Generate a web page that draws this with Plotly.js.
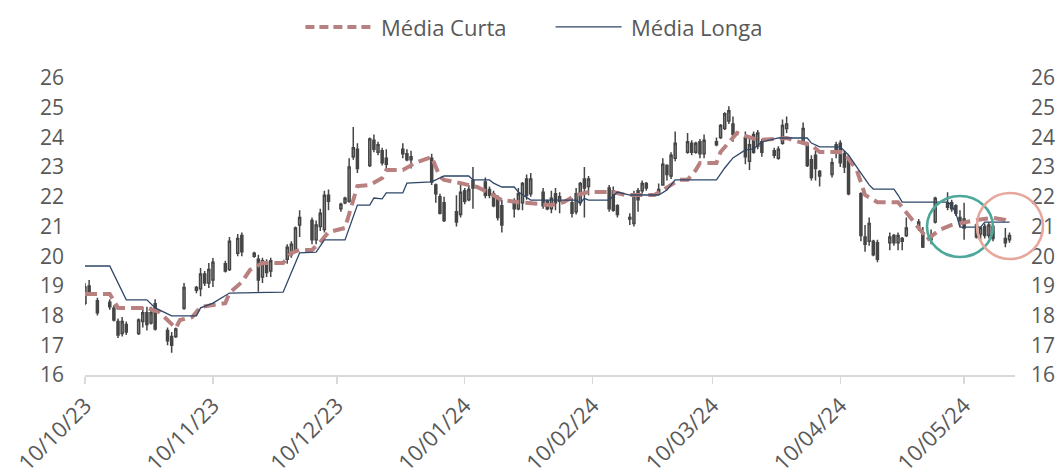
<!DOCTYPE html>
<html>
<head>
<meta charset="utf-8">
<script src="https://cdn.plot.ly/plotly-3.0.1.min.js"></script>
<style>
  html, body { margin: 0; padding: 0; background: #ffffff; }
  #chart { width: 1063px; height: 476px; }
</style>
</head>
<body>
<div id="chart"></div>
<script>
// ---- Data ----
const dates = [
  "2023-10-10","2023-10-11","2023-10-13","2023-10-16","2023-10-17","2023-10-18","2023-10-19","2023-10-20",
  "2023-10-23","2023-10-24","2023-10-25","2023-10-26","2023-10-27","2023-10-30","2023-10-31","2023-11-01",
  "2023-11-03","2023-11-06","2023-11-07","2023-11-08","2023-11-09","2023-11-10","2023-11-13","2023-11-14",
  "2023-11-16","2023-11-17","2023-11-20","2023-11-21","2023-11-22","2023-11-23","2023-11-24","2023-11-28",
  "2023-11-29","2023-11-30","2023-12-01","2023-12-04","2023-12-05","2023-12-06","2023-12-07","2023-12-08",
  "2023-12-11","2023-12-12","2023-12-13","2023-12-14","2023-12-15","2023-12-18","2023-12-19","2023-12-20",
  "2023-12-21","2023-12-22","2023-12-26","2023-12-27","2023-12-28","2024-01-02","2024-01-03","2024-01-04",
  "2024-01-05","2024-01-08","2024-01-09","2024-01-10","2024-01-11","2024-01-12","2024-01-15","2024-01-16",
  "2024-01-17","2024-01-18","2024-01-19","2024-01-22","2024-01-23","2024-01-24","2024-01-25","2024-01-26",
  "2024-01-29","2024-01-30","2024-01-31","2024-02-01","2024-02-02","2024-02-05","2024-02-06","2024-02-07",
  "2024-02-08","2024-02-09","2024-02-14","2024-02-15","2024-02-16","2024-02-19","2024-02-20","2024-02-21",
  "2024-02-22","2024-02-23","2024-02-26","2024-02-27","2024-02-28","2024-02-29","2024-03-01","2024-03-04",
  "2024-03-05","2024-03-06","2024-03-07","2024-03-08","2024-03-11","2024-03-12","2024-03-13","2024-03-14",
  "2024-03-15","2024-03-18","2024-03-19","2024-03-20","2024-03-21","2024-03-22","2024-03-25","2024-03-26",
  "2024-03-27","2024-03-28","2024-04-01","2024-04-02","2024-04-03","2024-04-04","2024-04-05","2024-04-08",
  "2024-04-09","2024-04-10","2024-04-11","2024-04-12","2024-04-15","2024-04-16","2024-04-17","2024-04-18",
  "2024-04-19","2024-04-22","2024-04-23","2024-04-24","2024-04-25","2024-04-26","2024-04-29","2024-04-30",
  "2024-05-02","2024-05-03","2024-05-06","2024-05-07","2024-05-08","2024-05-09","2024-05-10","2024-05-13",
  "2024-05-14","2024-05-15","2024-05-16","2024-05-17","2024-05-20","2024-05-21"
];
const openP = [
  18.42,19.00,18.50,18.45,18.25,17.80,17.40,17.70,
  17.40,17.80,18.10,17.75,18.40,17.50,17.30,17.30,
  18.25,18.85,18.90,19.40,19.10,19.20,19.75,19.55,
  20.10,20.70,20.00,19.90,19.30,19.80,19.50,19.90,
  20.05,20.20,21.05,21.20,20.55,21.00,20.90,22.05,
  21.60,21.80,21.85,23.35,23.60,23.05,23.90,23.50,
  23.55,23.30,23.60,23.45,23.35,23.30,22.40,22.00,
  21.80,21.50,21.40,22.20,21.90,22.55,22.50,22.25,
  22.10,21.95,21.70,21.85,21.60,21.80,22.60,22.10,
  22.15,21.85,21.60,22.10,21.85,21.80,21.50,21.80,
  22.60,22.35,22.30,22.20,21.70,21.30,21.10,22.20,
  22.20,22.45,22.15,22.40,23.05,22.70,23.30,23.50,
  23.80,23.50,23.85,23.45,23.85,24.00,24.30,24.55,
  24.45,24.00,23.20,24.10,23.70,23.85,23.55,23.30,
  23.80,24.30,23.80,23.75,23.25,23.40,22.85,22.75,
  23.75,23.80,23.45,23.30,22.10,20.65,20.50,20.50,
  20.45,20.45,20.70,20.45,20.60,20.70,21.00,20.78,
  20.60,21.15,21.80,21.80,21.70,21.30,21.25,21.05,
  20.75,21.00,20.70,21.00,20.60,20.55
];
const highP = [
  19.10,19.20,18.60,18.55,18.35,17.90,17.95,17.80,
  17.90,18.30,18.30,18.30,18.55,17.60,17.45,17.60,
  19.10,19.00,19.60,19.50,19.77,19.94,19.85,20.65,
  20.75,20.80,20.15,20.05,19.95,19.90,19.95,20.40,
  20.50,21.00,21.55,21.30,21.20,21.60,22.20,22.25,
  21.80,22.00,23.30,24.35,23.80,24.00,24.10,23.85,
  23.65,23.60,23.80,23.60,23.55,23.45,22.45,22.10,
  22.00,22.05,22.40,22.30,22.40,23.00,22.65,22.35,
  22.20,22.05,21.90,21.95,22.30,22.50,22.75,22.80,
  22.30,21.90,22.20,22.30,22.15,21.95,22.30,22.50,
  23.00,22.70,22.40,22.35,21.75,21.45,22.20,22.30,
  22.55,22.50,22.45,23.30,23.10,23.50,24.20,24.15,
  23.90,23.85,23.95,24.10,24.00,24.45,24.85,25.05,
  24.70,24.20,23.95,24.20,24.25,23.95,23.65,23.70,
  24.60,24.70,24.50,23.85,23.40,23.55,22.90,23.30,
  23.85,23.90,23.55,23.40,22.15,21.05,21.30,20.55,
  20.55,20.80,20.75,20.80,20.65,21.30,21.25,20.98,
  20.90,22.00,22.15,21.90,21.75,21.55,21.80,21.10,
  21.00,21.10,21.15,21.05,20.95,20.80
];
const lowP = [
  18.35,18.75,18.00,18.20,17.80,17.25,17.30,17.35,
  17.35,17.60,17.50,17.70,17.50,17.00,16.75,17.25,
  18.20,18.75,18.65,19.00,18.93,18.96,19.45,19.50,
  20.00,20.00,19.95,18.80,19.10,19.30,19.30,19.75,
  19.95,20.15,20.65,20.40,20.40,20.85,20.80,21.55,
  21.50,21.75,21.80,23.25,22.80,23.00,23.50,23.40,
  23.05,22.95,23.30,23.20,22.95,22.40,21.80,21.40,
  21.15,21.00,21.30,21.75,21.85,21.60,21.95,21.95,
  21.65,21.20,20.80,21.30,21.55,21.55,21.90,22.00,
  21.60,21.55,21.45,21.55,21.45,21.30,21.40,21.70,
  21.30,22.05,21.50,21.50,21.30,21.05,21.00,21.50,
  22.10,22.20,22.10,22.40,22.55,22.60,23.20,23.45,
  23.40,23.45,23.30,23.30,23.70,23.95,24.25,24.45,
  23.85,23.10,22.90,23.45,23.60,23.35,23.30,23.25,
  23.75,24.15,23.75,23.00,22.55,22.55,22.35,22.65,
  23.30,23.00,22.80,22.05,20.50,20.15,20.35,20.00,
  19.80,20.20,20.35,20.20,20.20,20.65,20.85,20.28,
  20.40,21.10,21.55,21.50,21.35,21.00,20.55,20.60,
  20.55,20.60,20.60,20.50,20.30,20.45
];
const closeP = [
  18.96,18.80,18.10,18.30,17.85,17.35,17.80,17.45,
  17.85,18.10,17.70,18.10,17.55,17.15,17.00,17.55,
  18.95,18.95,19.40,19.10,19.55,19.80,19.50,20.50,
  20.60,20.15,20.10,19.20,19.85,19.45,19.85,20.30,
  20.40,20.95,21.30,20.55,21.05,21.45,22.05,21.85,
  21.75,21.95,23.00,23.65,22.95,23.95,23.60,23.75,
  23.15,23.10,23.45,23.25,23.25,22.50,22.10,21.45,
  21.20,21.15,22.15,21.85,22.25,22.30,22.05,22.05,
  21.70,21.30,21.05,21.60,22.10,22.45,22.05,22.60,
  21.70,21.60,21.95,21.80,22.00,21.45,22.10,22.45,
  22.30,22.60,21.60,21.55,21.40,21.25,22.10,21.90,
  22.45,22.30,22.25,23.10,22.75,23.40,23.80,23.85,
  23.50,23.80,23.45,23.90,23.75,24.40,24.80,24.90,
  24.10,23.35,23.75,23.50,24.15,23.50,23.40,23.60,
  24.40,24.45,24.30,23.05,22.65,22.95,22.70,23.15,
  23.50,23.15,23.00,22.10,20.70,20.40,21.10,20.05,
  19.90,20.65,20.45,20.70,20.50,20.95,21.15,20.31,
  20.55,21.95,21.65,21.60,21.45,21.15,20.95,20.65,
  20.95,20.70,21.05,20.60,20.45,20.70
];

const curtaDates = [
  "2023-10-10","2023-10-16","2023-10-18","2023-10-25","2023-10-28","2023-10-30","2023-11-01","2023-11-02",
  "2023-11-05","2023-11-07","2023-11-13","2023-11-14","2023-11-17","2023-11-19","2023-11-22","2023-11-27",
  "2023-11-29","2023-12-01","2023-12-04","2023-12-06","2023-12-08","2023-12-12","2023-12-14","2023-12-15",
  "2023-12-18","2023-12-21","2023-12-22","2023-12-26","2023-12-29","2024-01-02","2024-01-04","2024-01-05",
  "2024-01-09","2024-01-13","2024-01-16","2024-01-19","2024-01-23","2024-01-31","2024-02-03","2024-02-06",
  "2024-02-09","2024-02-15","2024-02-18","2024-02-25","2024-02-27","2024-03-02","2024-03-04","2024-03-06",
  "2024-03-07","2024-03-11","2024-03-12","2024-03-15","2024-03-16","2024-03-21","2024-03-28","2024-03-31",
  "2024-04-03","2024-04-05","2024-04-10","2024-04-11","2024-04-14","2024-04-16","2024-04-19","2024-04-24",
  "2024-04-26","2024-04-28","2024-04-30","2024-05-01","2024-05-04","2024-05-07","2024-05-10","2024-05-13",
  "2024-05-17","2024-05-20","2024-05-21"
];
const curtaValues = [
  18.73,18.73,18.26,18.26,18.12,17.85,17.58,17.85,
  17.95,18.29,18.42,18.76,19.13,19.54,19.77,19.77,
  20.11,20.21,20.21,20.48,20.81,20.95,21.89,22.36,
  22.40,22.63,22.90,22.90,23.14,23.34,22.67,22.57,
  22.46,22.33,22.13,21.89,21.82,21.72,21.82,22.06,
  22.16,22.16,22.06,22.06,22.23,22.57,22.57,22.90,
  23.14,23.14,23.51,24.01,24.15,23.91,23.98,23.85,
  23.74,23.51,23.51,23.47,22.90,22.06,21.82,21.82,
  21.49,21.15,20.78,20.55,20.88,21.05,21.15,21.22,
  21.29,21.22,21.15
];

const longaDates = [
  "2023-10-10","2023-10-16","2023-10-20","2023-10-25","2023-10-27","2023-10-31","2023-11-06","2023-11-07",
  "2023-11-10","2023-11-14","2023-11-27","2023-12-01","2023-12-05","2023-12-07","2023-12-12","2023-12-15",
  "2023-12-18","2023-12-19","2023-12-21","2023-12-22","2023-12-26","2023-12-27","2024-01-02","2024-01-04",
  "2024-01-05","2024-01-11","2024-01-12","2024-01-16","2024-01-17","2024-01-19","2024-01-22","2024-01-23",
  "2024-01-26","2024-02-06","2024-02-07","2024-02-08","2024-02-09","2024-02-14","2024-02-16","2024-02-19",
  "2024-02-26","2024-02-28","2024-03-01","2024-03-11","2024-03-13","2024-03-15","2024-03-18","2024-03-20",
  "2024-03-22","2024-03-26","2024-04-02","2024-04-03","2024-04-05","2024-04-10","2024-04-12","2024-04-14",
  "2024-04-16","2024-04-17","2024-04-18","2024-04-23","2024-04-24","2024-04-25","2024-05-06","2024-05-07",
  "2024-05-08","2024-05-09","2024-05-14","2024-05-15","2024-05-21"
];
const longaValues = [
  19.67,19.67,18.53,18.53,18.26,17.99,17.99,18.26,
  18.42,18.76,18.79,20.11,20.14,20.55,20.55,21.72,
  21.72,21.96,21.93,22.13,22.13,22.46,22.50,22.63,
  22.70,22.70,22.57,22.57,22.46,22.33,22.33,22.16,
  21.89,21.89,21.79,21.95,21.89,21.89,22.16,22.06,
  22.06,22.23,22.57,22.57,22.97,23.31,23.58,23.61,
  23.85,23.98,23.98,23.81,23.68,23.68,23.41,23.00,
  22.57,22.40,22.26,22.26,22.06,21.82,21.82,21.72,
  21.45,20.98,20.98,21.15,21.15
];

const tickDates = ["2023-10-10","2023-11-10","2023-12-10","2024-01-10","2024-02-10","2024-03-10","2024-04-10","2024-05-10"];
const tickLabels = ["10/10/23","10/11/23","10/12/23","10/01/24","10/02/24","10/03/24","10/04/24","10/05/24"];
const seriesNames = ["Média Curta","Média Longa"];
const yTicks = [16,17,18,19,20,21,22,23,24,25,26];

// ---- Styles ----
const FONT = "Open Sans, Lato, sans-serif";
const TXT = "#595959";
const CURTA_COLOR = "#B98080";
const LONGA_COLOR = "#2E4768";

const traces = [
  {
    type: "candlestick",
    x: dates, open: openP, high: highP, low: lowP, close: closeP,
    increasing: { line: { color: "#454545", width: 1.5 }, fillcolor: "#a8a8a8" },
    decreasing: { line: { color: "#454545", width: 1.5 }, fillcolor: "#454545" },
    whiskerwidth: 0,
    showlegend: false,
    hoverinfo: "skip"
  },
  {
    type: "scatter", mode: "lines", name: seriesNames[0],
    x: curtaDates, y: curtaValues, showlegend: false,
    line: { color: CURTA_COLOR, width: 4, dash: "12px,6px" }
  },
  {
    type: "scatter", mode: "lines", name: seriesNames[1],
    x: longaDates, y: longaValues, showlegend: false,
    line: { color: LONGA_COLOR, width: 1.3 }
  },
  {
    type: "scatter", mode: "lines", x: [], y: [], yaxis: "y2",
    showlegend: false, hoverinfo: "skip"
  }
];

// legend drawn in paper coordinates (longer sample lines like the reference)
const LEG_Y = 1.172;
const legendShapes = [
  { type: "line", xref: "paper", yref: "paper", x0: 0.237, x1: 0.311, y0: LEG_Y, y1: LEG_Y,
    line: { color: CURTA_COLOR, width: 4, dash: "9px,5px" } },
  { type: "line", xref: "paper", yref: "paper", x0: 0.506, x1: 0.577, y0: LEG_Y, y1: LEG_Y,
    line: { color: LONGA_COLOR, width: 1.3 } }
];
const legendLabels = [
  { xref: "paper", yref: "paper", x: 0.316, y: LEG_Y, xanchor: "left", yanchor: "middle",
    text: seriesNames[0], showarrow: false, font: { family: FONT, size: 22, color: TXT } },
  { xref: "paper", yref: "paper", x: 0.585, y: LEG_Y, xanchor: "left", yanchor: "middle",
    text: seriesNames[1], showarrow: false, font: { family: FONT, size: 22, color: TXT } }
];

const layout = {
  width: 1063, height: 476,
  margin: { l: 85, r: 48, t: 78, b: 101, pad: 0 },
  paper_bgcolor: "#ffffff", plot_bgcolor: "#ffffff",
  font: { family: FONT, color: TXT, size: 20 },
  showlegend: false,
  xaxis: {
    type: "date",
    range: ["2023-10-10", "2024-05-22 08:00"],
    tickvals: tickDates, ticktext: tickLabels,
    tickangle: -45,
    tickfont: { family: FONT, size: 22, color: TXT },
    showline: true, linecolor: "#d9d9d9", linewidth: 2,
    ticks: "outside", ticklen: 7, tickcolor: "#d9d9d9", tickwidth: 1.5,
    showgrid: false, zeroline: false,
    rangeslider: { visible: false },
    fixedrange: true
  },
  yaxis: {
    range: [16, 26], tickvals: yTicks,
    tickfont: { family: FONT, size: 21, color: TXT },
    showgrid: false, zeroline: false, showline: false, ticks: "",
    ticklabelstandoff: 20, fixedrange: true
  },
  yaxis2: {
    overlaying: "y", side: "right", range: [16, 26], tickvals: yTicks,
    tickfont: { family: FONT, size: 21, color: TXT },
    showgrid: false, zeroline: false, showline: false, ticks: "",
    ticklabelstandoff: 15, fixedrange: true
  },
  annotations: legendLabels,
  shapes: legendShapes.concat([
    { type: "circle", xref: "paper", yref: "paper",
      x0: 0.9054, x1: 0.9763, y0: 0.3973, y1: 0.6027,
      line: { color: "#4DA899", width: 2.6 } },
    { type: "circle", xref: "paper", yref: "paper",
      x0: 0.9591, x1: 1.0301, y0: 0.3906, y1: 0.6128,
      line: { color: "#E6A79C", width: 2.6 } }
  ])
};

Plotly.newPlot("chart", traces, layout, { staticPlot: true, displayModeBar: false });
</script>
</body>
</html>
